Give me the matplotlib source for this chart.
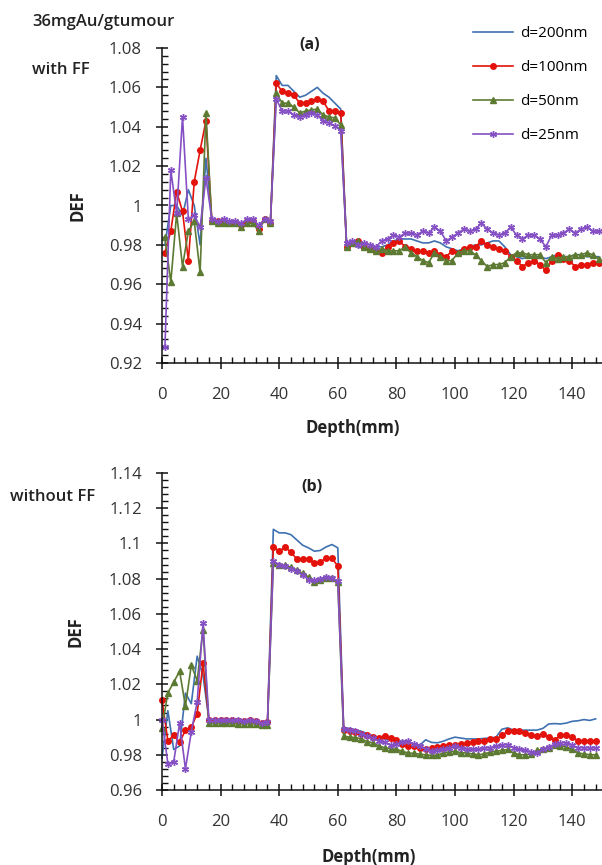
import matplotlib
matplotlib.use("Agg")
import matplotlib.pyplot as plt
from matplotlib.ticker import MultipleLocator, FuncFormatter

plt.rcParams['font.family'] = ['Open Sans', 'DejaVu Sans']

# ---------------- data: panel (a), with FF ----------------
depth_a = list(range(1, 150, 2))

def_a_200 = [0.980, 1.000, 1.000, 0.995, 1.008, 1.000, 0.980, 1.024, 0.993,
             0.992, 0.992, 0.991, 0.991, 0.990, 0.992, 0.992, 0.988, 0.993, 0.991,
             1.066, 1.061, 1.061, 1.058, 1.055, 1.056, 1.058, 1.060, 1.057, 1.055, 1.052, 1.049,
             0.980, 0.980, 0.979, 0.978, 0.978, 0.979, 0.979, 0.980, 0.982, 0.983,
             0.983, 0.983, 0.982, 0.981, 0.981, 0.982, 0.981, 0.979, 0.978, 0.977,
             0.978, 0.979, 0.980, 0.980, 0.981, 0.982, 0.982, 0.979, 0.975, 0.974,
             0.973, 0.974, 0.974, 0.974, 0.973, 0.974, 0.975, 0.974, 0.974, 0.975,
             0.975, 0.974, 0.974, 0.974]
def_a_100 = [0.976, 0.987, 1.007, 0.997, 0.972, 1.012, 1.028, 1.043, 0.992,
             0.992, 0.991, 0.991, 0.991, 0.990, 0.992, 0.992, 0.988, 0.993, 0.991,
             1.062, 1.058, 1.057, 1.056, 1.052, 1.052, 1.053, 1.054, 1.053, 1.048, 1.048, 1.047,
             0.979, 0.981, 0.982, 0.979, 0.978, 0.977, 0.976, 0.979, 0.981, 0.982,
             0.979, 0.978, 0.977, 0.977, 0.976, 0.977, 0.975, 0.974, 0.977, 0.976,
             0.978, 0.979, 0.979, 0.982, 0.980, 0.979, 0.978, 0.977, 0.974, 0.972,
             0.969, 0.971, 0.972, 0.970, 0.967, 0.972, 0.975, 0.973, 0.972, 0.969,
             0.970, 0.970, 0.971, 0.971]
def_a_50 = [0.984, 0.961, 0.996, 0.969, 0.987, 0.992, 0.966, 1.047, 0.992,
            0.991, 0.991, 0.991, 0.991, 0.989, 0.991, 0.991, 0.987, 0.993, 0.991,
            1.057, 1.052, 1.052, 1.050, 1.047, 1.048, 1.0485, 1.049, 1.046, 1.045, 1.0445, 1.041,
            0.979, 0.981, 0.982, 0.979, 0.978, 0.977, 0.978, 0.977, 0.977, 0.977,
            0.979, 0.976, 0.974, 0.972, 0.971, 0.976, 0.974, 0.972, 0.972, 0.976,
            0.977, 0.977, 0.975, 0.972, 0.969, 0.970, 0.970, 0.971, 0.974, 0.976,
            0.976, 0.975, 0.975, 0.975, 0.971, 0.974, 0.973, 0.974, 0.974, 0.975,
            0.975, 0.976, 0.975, 0.973]
def_a_25 = [0.928, 1.018, 0.996, 1.045, 0.993, 0.995, 0.989, 1.014, 0.993,
            0.992, 0.993, 0.992, 0.992, 0.991, 0.993, 0.993, 0.990, 0.993, 0.992,
            1.054, 1.048, 1.048, 1.046, 1.045, 1.046, 1.047, 1.046, 1.043, 1.042, 1.0405, 1.038,
            0.981, 0.982, 0.980, 0.981, 0.980, 0.979, 0.982, 0.983, 0.985, 0.984,
            0.986, 0.986, 0.985, 0.987, 0.986, 0.989, 0.987, 0.982, 0.984, 0.986,
            0.988, 0.987, 0.988, 0.991, 0.988, 0.986, 0.985, 0.986, 0.989, 0.985,
            0.983, 0.985, 0.985, 0.983, 0.979, 0.985, 0.985, 0.986, 0.988, 0.986,
            0.988, 0.989, 0.987, 0.987]

# ---------------- data: panel (b), without FF ----------------
depth_b = list(range(0, 149, 2))

def_b_200 = [0.978, 1.005, 0.983, 0.985, 1.015, 1.009, 1.036, 1.025,
             1.000, 0.9995, 0.9995, 0.9995, 0.999, 0.999, 0.999, 0.999, 0.9985, 0.998, 0.9985,
             1.108, 1.106, 1.106, 1.105, 1.102, 1.099, 1.0975, 1.0956, 1.096, 1.098, 1.0994, 1.0975,
             0.9953, 0.995, 0.994, 0.9934, 0.992, 0.9908, 0.990, 0.989, 0.9886, 0.988,
             0.9877, 0.9877, 0.986, 0.9855, 0.9885, 0.987, 0.9868, 0.9877, 0.989, 0.990,
             0.9895, 0.989, 0.989, 0.989, 0.9893, 0.9895, 0.990, 0.9945, 0.9953, 0.994,
             0.994, 0.994, 0.994, 0.994, 0.995, 0.9975, 0.9977, 0.9975, 0.998, 0.999,
             0.9993, 1.000, 0.9995, 1.0004]
def_b_100 = [1.011, 0.988, 0.991, 0.987, 0.994, 0.9955, 1.0034, 1.032,
             1.000, 0.9995, 1.000, 0.9995, 0.9995, 0.999, 0.999, 0.9995, 0.999, 0.998, 0.9985,
             1.098, 1.0956, 1.098, 1.095, 1.0912, 1.0912, 1.0912, 1.089, 1.0894, 1.0918, 1.0918, 1.087,
             0.9943, 0.9935, 0.993, 0.992, 0.991, 0.990, 0.9896, 0.9905, 0.9895, 0.9886,
             0.986, 0.985, 0.9848, 0.984, 0.983, 0.984, 0.9845, 0.985, 0.9855, 0.9858,
             0.986, 0.9866, 0.987, 0.9877, 0.988, 0.9888, 0.989, 0.991, 0.9934, 0.9934,
             0.9934, 0.9925, 0.991, 0.9905, 0.992, 0.990, 0.9885, 0.991, 0.9915, 0.990,
             0.988, 0.9877, 0.9877, 0.9877]
def_b_50 = [0.9953, 1.0151, 1.0212, 1.0275, 1.0076, 1.031, 1.022, 1.0511,
            0.998, 0.998, 0.998, 0.9978, 0.9978, 0.9975, 0.9975, 0.9975, 0.9975, 0.997, 0.997,
            1.089, 1.088, 1.0875, 1.0865, 1.085, 1.083, 1.081, 1.078, 1.079, 1.0805, 1.0805, 1.078,
            0.9905, 0.990, 0.9898, 0.989, 0.9875, 0.9868, 0.985, 0.984, 0.9835, 0.983,
            0.982, 0.981, 0.9808, 0.9803, 0.980, 0.9796, 0.9798, 0.981, 0.9815, 0.982,
            0.9812, 0.981, 0.9805, 0.980, 0.9805, 0.9815, 0.982, 0.9825, 0.983, 0.981,
            0.980, 0.980, 0.9805, 0.9825, 0.983, 0.984, 0.9855, 0.985, 0.9845, 0.983,
            0.981, 0.9805, 0.980, 0.980]
def_b_25 = [1.000, 0.975, 0.976, 0.998, 0.972, 0.993, 1.010, 1.055,
            1.000, 1.000, 0.9995, 1.000, 0.9995, 0.9995, 0.999, 0.9995, 0.999, 0.998, 0.9985,
            1.090, 1.088, 1.087, 1.0855, 1.0845, 1.082, 1.0795, 1.079, 1.080, 1.081, 1.0805, 1.0785,
            0.9945, 0.994, 0.9934, 0.992, 0.9905, 0.9895, 0.988, 0.987, 0.9855, 0.986,
            0.9875, 0.9877, 0.986, 0.985, 0.983, 0.982, 0.9825, 0.983, 0.984, 0.9848,
            0.984, 0.9835, 0.983, 0.9832, 0.984, 0.9839, 0.985, 0.9855, 0.9858, 0.984,
            0.983, 0.9825, 0.9815, 0.981, 0.983, 0.9845, 0.986, 0.9868, 0.9868, 0.9855,
            0.984, 0.984, 0.9839, 0.9839]

labels = ['d=200nm', 'd=100nm', 'd=50nm', 'd=25nm']
colors = ['#3f71b0', '#e3120b', '#5d7a32', '#8550c4']
markers = [None, 'o', '^', (6, 2, 0)]
msizes = [0, 4, 5, 5]

W, H = 602, 865
fig = plt.figure(figsize=(W / 100, H / 100), dpi=100)
ax_a = fig.add_axes([162 / W, 1 - 363 / H, 439.5 / W, 315 / H])
ax_b = fig.add_axes([162 / W, 1 - 790 / H, 439.5 / W, 317 / H])


def fmt_y(v, pos):
    return f"{v:.2f}".rstrip('0').rstrip('.')


def style(ax, ylo, yhi):
    ax.set_xlim(0, 150)
    ax.set_ylim(ylo, yhi)
    ax.spines['top'].set_visible(False)
    ax.spines['right'].set_visible(False)
    for s in ('left', 'bottom'):
        ax.spines[s].set_linewidth(1.1)
        ax.spines[s].set_color('#111111')
    ax.xaxis.set_major_locator(MultipleLocator(20))
    ax.xaxis.set_minor_locator(MultipleLocator(4))
    ax.yaxis.set_major_locator(MultipleLocator(0.02))
    ax.yaxis.set_minor_locator(MultipleLocator(0.004))
    ax.yaxis.set_major_formatter(FuncFormatter(fmt_y))
    ax.tick_params(which='major', direction='inout', length=8, width=1.1,
                   labelsize=12, labelcolor='#333333', color='#111111')
    ax.tick_params(which='minor', direction='in', length=4, width=1.0, color='#111111')
    ax.tick_params(axis='x', which='major', pad=13)
    ax.tick_params(axis='y', which='major', pad=10.5)
    ax.patch.set_alpha(0)


def pix_text(x, y, s, **kw):
    fig.text(x / W, 1 - y / H, s, ha='center', va='center', color='#222222', **kw)


handles = []
for ax, xs, series in ((ax_a, depth_a, (def_a_200, def_a_100, def_a_50, def_a_25)),
                       (ax_b, depth_b, (def_b_200, def_b_100, def_b_50, def_b_25))):
    for ys, lab, c, m, ms in zip(series, labels, colors, markers, msizes):
        h, = ax.plot(xs, ys, color=c, lw=1.2, marker=m, markersize=ms,
                     markeredgewidth=1.0, label=lab, clip_on=False)
        if ax is ax_a:
            handles.append(h)

style(ax_a, 0.92, 1.08)
style(ax_b, 0.96, 1.14)

# axis titles
pix_text(78, 206, 'DEF', fontsize=12, fontweight='bold', rotation=90)
pix_text(75, 632, 'DEF', fontsize=12, fontweight='bold', rotation=90)
pix_text(353, 428, 'Depth(mm)', fontsize=12, fontweight='bold')
pix_text(369, 857, 'Depth(mm)', fontsize=12, fontweight='bold')

# panel tags and annotations
pix_text(310, 45, '(a)', fontsize=11.5, fontweight='bold')
pix_text(312, 487, '(b)', fontsize=11.5, fontweight='bold')
fig.text(32 / W, 1 - 22 / H, '36mgAu/gtumour', fontsize=12, fontweight='semibold',
         ha='left', va='center', color='#222222')
fig.text(32 / W, 1 - 70 / H, 'with FF', fontsize=12, fontweight='semibold',
         ha='left', va='center', color='#222222')
fig.text(10 / W, 1 - 497 / H, 'without FF', fontsize=12, fontweight='semibold',
         ha='left', va='center', color='#222222')

fig.legend(handles=handles, loc='upper left', bbox_to_anchor=(467 / W, 1 - 20 / H),
           frameon=False, fontsize=11, handlelength=2.6, labelspacing=1.25,
           handletextpad=0.45, borderaxespad=0)

fig.savefig('out.png', dpi=100)
